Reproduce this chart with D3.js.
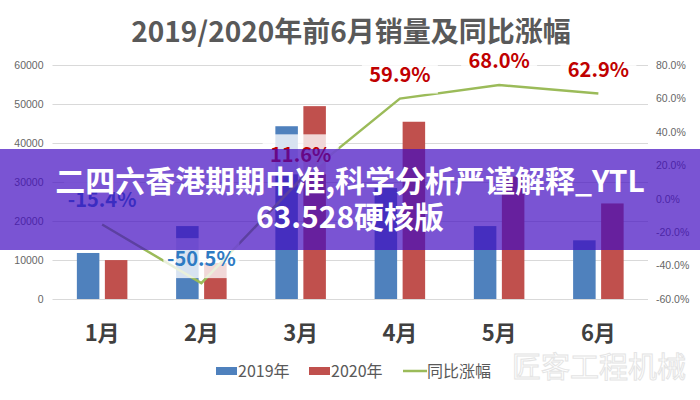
<!DOCTYPE html>
<html>
<head>
<meta charset="utf-8">
<script src="https://cdn.jsdelivr.net/npm/d3@7"></script>
<style>
  body { margin: 0; background: #fff; }
  svg { display: block; }
  .tick text { fill: #666; font-family: "Liberation Sans", Arial, sans-serif; font-size: 10.5px; }
</style>
</head>
<body>
<svg id="chart"></svg>
<script>
// data
var months = ["1月", "2月", "3月", "4月", "5月", "6月"];
var series = ["2019年", "2020年"];
var sales2019 = [11800, 18700, 44300, 28450, 18700, 15050];
var sales2020 = [9980, 9250, 49450, 45450, 31400, 24500];
var growth = [-15.4, -50.5, 11.6, 59.9, 68.0, 62.9];
var leftTicks = [0, 10000, 20000, 30000, 40000, 50000, 60000];
var rightTicks = [-60, -40, -20, 0, 20, 40, 60, 80];

var screen = { width: 700, height: 400 };
var plot = { left: 52.5, right: 648, top: 65, bottom: 299 };
var colors = { "2019年": "#4F81BD", "2020年": "#C0504D", line: "#9BBB59" };
var cjk = '"Noto Sans CJK SC", "Noto Sans", sans-serif';

var svg = d3.select("#chart").attr("width", screen.width).attr("height", screen.height);

var xScale = d3.scaleBand().domain(months).range([plot.left, plot.right]);
var xInner = d3.scaleBand().domain(series).range([0, xScale.bandwidth()])
  .paddingInner(0.196).paddingOuter(0.87);
var yLeft = d3.scaleLinear().domain([0, 60000]).range([plot.bottom, plot.top]);
var yRight = d3.scaleLinear().domain([-60, 80]).range([plot.bottom, plot.top]);

//axes, left one carries the grid lines
var leftAxis = svg.append("g")
  .attr("transform", "translate(" + plot.left + ",0)")
  .call(d3.axisLeft(yLeft).tickValues(leftTicks).tickSize(-(plot.right - plot.left)).tickPadding(9)
    .tickFormat(d3.format("d")));
leftAxis.select(".domain").remove();
leftAxis.selectAll(".tick line").attr("stroke", "#d9d9d9");

var rightAxis = svg.append("g")
  .attr("transform", "translate(" + plot.right + ",0)")
  .call(d3.axisRight(yRight).tickValues(rightTicks).tickSize(0).tickPadding(8)
    .tickFormat(function (d) { return d.toFixed(1) + "%"; }));
rightAxis.select(".domain").remove();

//month labels
svg.append("g").selectAll("text")
  .data(months).enter().append("text")
  .attr("x", function (d) { return xScale(d) + xScale.bandwidth() / 2; })
  .attr("y", 341)
  .attr("text-anchor", "middle")
  .style("font-family", cjk).style("font-weight", "bold")
  .style("font-size", "22px").style("fill", "#404040")
  .text(function (d) { return d; });

// bars
var barData = months.map(function (m, i) {
  return [
    { month: m, s: series[0], v: sales2019[i] },
    { month: m, s: series[1], v: sales2020[i] }
  ];
});
svg.append("g").selectAll("g")
  .data(barData).enter().append("g")
  .attr("transform", function (d) { return "translate(" + xScale(d[0].month) + ",0)"; })
  .selectAll("rect")
  .data(function (d) { return d; }).enter().append("rect")
  .attr("x", function (d) { return xInner(d.s); })
  .attr("width", xInner.bandwidth())
  .attr("y", function (d) { return yLeft(d.v); })
  .attr("height", function (d) { return plot.bottom - yLeft(d.v); })
  .style("fill", function (d) { return colors[d.s]; });

// growth line
var cx = function (i) { return xScale(months[i]) + xScale.bandwidth() / 2; };
var line = d3.line()
  .x(function (d, i) { return cx(i); })
  .y(function (d) { return yRight(d); });
svg.append("path")
  .datum(growth)
  .attr("d", line)
  .attr("fill", "none")
  .attr("stroke", colors.line)
  .attr("stroke-width", 2.5);

// value labels with light boxes
var labels = svg.append("g").selectAll("g")
  .data(growth).enter().append("g");
labels.append("rect")
  .attr("x", function (d, i) { return cx(i) - 38; })
  .attr("width", 76)
  .attr("y", function (d) { return yRight(d) - 17 - 28; })
  .attr("height", 40)
  .style("fill", "#fff").style("opacity", 0.78);
labels.append("text")
  .attr("x", function (d, i) { return cx(i); })
  .attr("y", function (d) { return yRight(d) - 17; })
  .attr("text-anchor", "middle")
  .style("font-family", cjk).style("font-weight", "bold").style("font-size", "20px")
  .style("fill", function (d) { return d < 0 ? "#2E7BC4" : "#C00000"; })
  .text(function (d) { return d.toFixed(1) + "%"; });

//title, drawn after the label boxes so nothing covers it
svg.append("text")
  .attr("x", 351).attr("y", 42)
  .attr("text-anchor", "middle")
  .style("font-family", cjk).style("font-weight", "bold")
  .style("font-size", "28px").style("fill", "#595959")
  .text("2019/2020年前6月销量及同比涨幅");

// legend
var legendItems = [
  { name: series[0], x: 216, type: "rect", color: colors["2019年"] },
  { name: series[1], x: 309, type: "rect", color: colors["2020年"] },
  { name: "同比涨幅", x: 403, type: "line", color: colors.line }
];
var legend = svg.append("g").selectAll("g")
  .data(legendItems).enter().append("g")
  .attr("transform", function (d) { return "translate(" + d.x + ",371)"; });
legend.filter(function (d) { return d.type === "rect"; })
  .append("rect").attr("x", 0).attr("y", -4).attr("width", 21).attr("height", 8)
  .style("fill", function (d) { return d.color; });
legend.filter(function (d) { return d.type === "line"; })
  .append("line").attr("x1", 0).attr("x2", 24).attr("y1", 0).attr("y2", 0)
  .attr("stroke", function (d) { return d.color; }).attr("stroke-width", 2.5);
legend.append("text")
  .attr("x", function (d) { return d.type === "line" ? 24 : 22; })
  .attr("y", 6)
  .style("font-family", cjk).style("font-size", "16px").style("fill", "#595959")
  .text(function (d) { return d.name; });

// watermark
svg.append("text")
  .attr("x", 512).attr("y", 378)
  .style("font-family", cjk).style("font-size", "29px")
  .style("fill", "#fff").style("stroke", "#e4e4e4").style("stroke-width", 1)
  .text("匠客工程机械");

// overlay banner
svg.append("rect")
  .attr("x", 0).attr("y", 149).attr("width", screen.width).attr("height", 101)
  .style("fill", "rgb(66,12,192)").style("opacity", 0.7);
var bannerLines = ["二四六香港期期中准,科学分析严谨解释_YTL", "63.528硬核版"];
svg.append("g").selectAll("text")
  .data(bannerLines).enter().append("text")
  .attr("x", 350)
  .attr("y", function (d, i) { return 192 + i * 36; })
  .attr("text-anchor", "middle")
  .style("font-family", cjk).style("font-weight", "bold").style("font-size", "30px")
  .style("fill", "#fff")
  .text(function (d) { return d; });
</script>
</body>
</html>
